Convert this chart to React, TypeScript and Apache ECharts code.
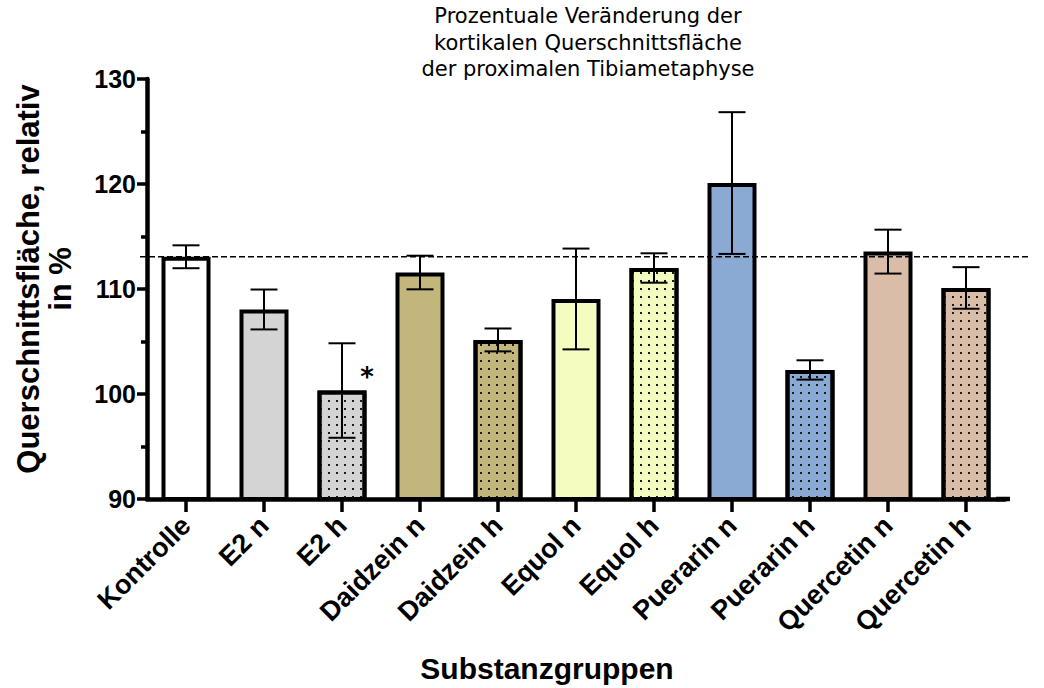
import React, { useEffect, useRef } from "react";
import * as echarts from "echarts";

const categories = [
  "Kontrolle",
  "E2 n",
  "E2 h",
  "Daidzein n",
  "Daidzein h",
  "Equol n",
  "Equol h",
  "Puerarin n",
  "Puerarin h",
  "Quercetin n",
  "Quercetin h",
];
const means = [113.07, 108.05, 100.33, 111.57, 105.15, 109.05, 112.0, 120.09, 102.29, 113.56, 110.1];
const errors = [1.09, 1.9, 4.5, 1.6, 1.09, 4.8, 1.4, 6.75, 0.92, 2.09, 1.98];
const fills = [
  "#ffffff",
  "#d4d4d4",
  "#d4d4d4",
  "#c2b67c",
  "#c2b67c",
  "#f4fcbf",
  "#f4fcbf",
  "#8aaad4",
  "#8aaad4",
  "#d9bda9",
  "#d9bda9",
];
const dotted = [false, false, true, false, true, false, true, false, true, false, true];
const marks = ["", "", "*", "", "", "", "", "", "", "", ""];
const yMin = 90;
const yMax = 130;
const yInterval = 10;

const FONT = "'Liberation Sans', Arial, sans-serif";

export default function App() {
  const ref = useRef<HTMLDivElement>(null);
  useEffect(() => {
    if (!ref.current) return;
    const chart = echarts.init(ref.current, undefined, { renderer: "svg" });
    const dots = {
      symbol: "rect",
      symbolSize: 1,
      dashArrayX: [1.6, 5.4],
      dashArrayY: [1.6, 5.4],
      color: "#1a1a1a",
      rotation: 0,
    };
    const barData = means.map((v, i) => {
      const itemStyle: any = { color: fills[i], borderColor: "#000", borderWidth: 4 };
      if (dotted[i]) itemStyle.decal = dots;
      return { value: v, itemStyle };
    });
    const errData = means.map((m, i) => [i, m - errors[i], m + errors[i], i]);

    chart.setOption({
      animation: false,
      backgroundColor: "#ffffff",
      title: {
        text: "Prozentuale Veränderung der\nkortikalen Querschnittsfläche\nder proximalen Tibiametaphyse",
        left: 588,
        textAlign: "center",
        top: 3,
        padding: 0,
        textStyle: {
          fontFamily: "'DejaVu Sans', sans-serif",
          fontSize: 21,
          fontWeight: "normal",
          color: "#000",
          lineHeight: 26.5,
        },
      },
      grid: { left: 147, right: 39, top: 79, bottom: 188, containLabel: false },
      xAxis: {
        type: "category",
        data: categories,
        name: "Substanzgruppen",
        nameLocation: "middle",
        nameGap: 154,
        nameTextStyle: {
          fontFamily: FONT,
          fontSize: 30,
          fontWeight: "bold",
          color: "#000",
          padding: [0, 58, 0, 0],
        },
        axisLine: { show: true, lineStyle: { color: "#000", width: 4.5 } },
        axisTick: { show: true, alignWithLabel: true, length: 13, lineStyle: { color: "#000", width: 3.5 } },
        axisLabel: {
          rotate: 45,
          interval: 0,
          margin: 22,
          fontFamily: FONT,
          fontSize: 27,
          fontWeight: "bold",
          color: "#000",
        },
        splitLine: { show: false },
      },
      yAxis: {
        type: "value",
        min: yMin,
        max: yMax,
        interval: yInterval,
        name: "Querschnittsfläche, relativ\nin %",
        nameLocation: "middle",
        nameGap: 71,
        nameRotate: 90,
        nameTextStyle: {
          fontFamily: FONT,
          fontSize: 31,
          fontWeight: "bold",
          color: "#000",
          lineHeight: 32,
          padding: [0, 0, 0, 20],
        },
        axisLine: { show: true, lineStyle: { color: "#000", width: 4.5 } },
        axisTick: { show: true, length: 10, lineStyle: { color: "#000", width: 3.5 } },
        minorTick: { show: true, splitNumber: 2, length: 6, lineStyle: { color: "#000", width: 3.5 } },
        axisLabel: {
          margin: 11,
          fontFamily: FONT,
          fontSize: 25,
          fontWeight: "bold",
          color: "#000",
        },
        splitLine: { show: false },
        minorSplitLine: { show: false },
      },
      series: [
        {
          type: "bar",
          data: barData,
          barWidth: 49,
          z: 2,
        },
        {
          type: "custom",
          z: 5,
          clip: false,
          data: errData,
          renderItem: (params: any, api: any) => {
            const x = api.value(0);
            const lo = api.value(1);
            const hi = api.value(2);
            const idx = api.value(3);
            const pHi = api.coord([x, hi]);
            const pLo = api.coord([x, lo]);
            const pMean = api.coord([x, means[idx]]);
            const half = 13.5;
            const st = { stroke: "#000", lineWidth: 2 };
            const children: any[] = [
              { type: "line", shape: { x1: pHi[0], y1: pHi[1], x2: pLo[0], y2: pLo[1] }, style: st },
              { type: "line", shape: { x1: pHi[0] - half, y1: pHi[1], x2: pHi[0] + half, y2: pHi[1] }, style: st },
              { type: "line", shape: { x1: pLo[0] - half, y1: pLo[1], x2: pLo[0] + half, y2: pLo[1] }, style: st },
            ];
            const mk = marks[idx];
            if (mk) {
              children.push({
                type: "text",
                style: {
                  text: mk,
                  x: pMean[0] + 25,
                  y: pMean[1] - 14,
                  fontFamily: "'DejaVu Sans', sans-serif",
                  fontSize: 26,
                  fontWeight: "bold",
                  fill: "#000",
                  align: "center",
                  verticalAlign: "middle",
                },
              });
            }
            return { type: "group", children };
          },
        },
      ],
    });

    const yRef = chart.convertToPixel({ yAxisIndex: 0 }, means[0]);
    const yBase = chart.convertToPixel({ yAxisIndex: 0 }, yMin);
    const xLast = chart.convertToPixel({ xAxisIndex: 0 }, categories.length - 1);
    chart.setOption({
      graphic: [
        {
          type: "line",
          z: 10,
          shape: { x1: 140, y1: yRef, x2: 1030, y2: yRef },
          style: { stroke: "#000", lineWidth: 1.3, lineDash: [6, 3] },
        },
        {
          type: "line",
          z: 10,
          shape: { x1: xLast + 30, y1: yBase, x2: xLast + 44, y2: yBase },
          style: { stroke: "#000", lineWidth: 4.5 },
        },
      ],
    });

    return () => chart.dispose();
  }, []);
  return (
    <div
      ref={ref}
      style={{ position: "fixed", left: 0, top: 0, width: 1044, height: 688, background: "#fff" }}
    />
  );
}
